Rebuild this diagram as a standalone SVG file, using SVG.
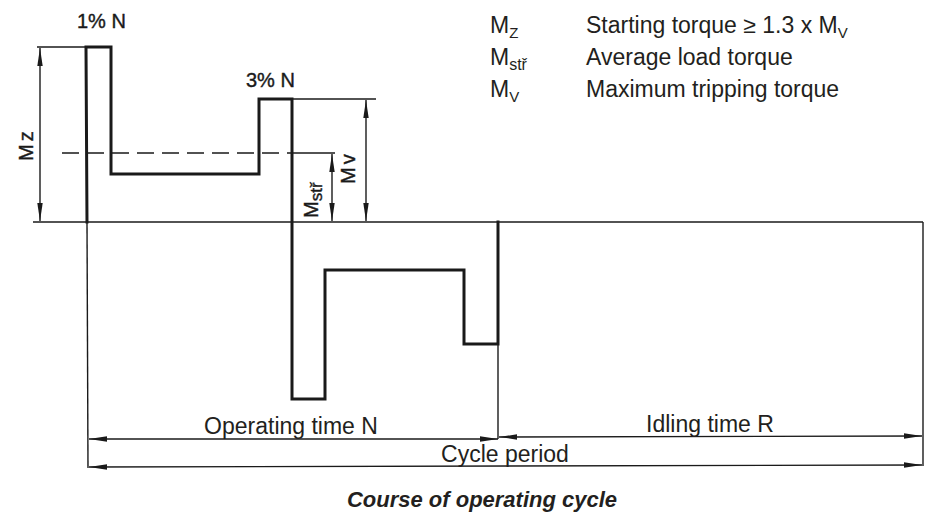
<svg xmlns="http://www.w3.org/2000/svg" width="928" height="527" viewBox="0 0 928 527">
  <style>
    .wave { fill: none; stroke: #1a1a1a; stroke-width: 3; stroke-linejoin: miter; stroke-linecap: square; }
    .thin { fill: none; stroke: #1a1a1a; stroke-width: 1.4; }
    .dash { fill: none; stroke: #1a1a1a; stroke-width: 1.4; stroke-dasharray: 17 8; }
    .dim { fill: none; stroke: #1a1a1a; stroke-width: 1.4; marker-start: url(#arr); marker-end: url(#arr); }
    .hand { font-family: "Liberation Sans", Arial, sans-serif; font-size: 20px; fill: #1a1a1a; stroke: #1a1a1a; stroke-width: 0.4; }
    .lbl { font-family: "Liberation Sans", Arial, Helvetica, sans-serif; font-size: 23px; fill: #231f20; }
    .cap { font-family: "Liberation Sans", Arial, Helvetica, sans-serif; font-size: 22px; font-weight: bold; font-style: italic; fill: #231f20; }
  </style>
  <defs>
    <marker id="arr" viewBox="0 0 18 7" refX="18" refY="3.5" markerWidth="18" markerHeight="7" markerUnits="userSpaceOnUse" orient="auto-start-reverse">
      <path d="M0,0.8 L18,3.5 L0,6.2 z" fill="#1a1a1a"/>
    </marker>
  </defs>
  <rect width="928" height="527" fill="#ffffff"/>

  <g id="baseline">
    <line class="thin" x1="33" y1="222" x2="923" y2="222"/>
  </g>

  <g id="extension-lines">
    <line class="thin" x1="37" y1="47" x2="86" y2="47" stroke-width="2"/>
    <line class="thin" x1="87" y1="222" x2="88" y2="468"/>
    <line class="thin" x1="292" y1="99" x2="376" y2="99"/>
    <line class="dash" x1="62" y1="153" x2="292" y2="153"/>
    <line class="thin" x1="292" y1="153" x2="335" y2="153"/>
    <line class="thin" x1="498" y1="344" x2="498" y2="439"/>
    <line class="thin" x1="923" y1="222" x2="923" y2="466"/>
  </g>

  <g id="waveform">
    <polyline class="wave" points="87,222 86,47 111,47 111,174 259,174 259,99 292,99 292,399 325,399 325,270 464,270 464,344 498,344 498,222"/>
  </g>

  <g id="connectors">
    <line class="dim" x1="40" y1="48" x2="40" y2="221"/>
    <line class="dim" x1="332" y1="154" x2="332" y2="221"/>
    <line class="dim" x1="366" y1="100" x2="366" y2="221"/>
    <line class="dim" x1="89" y1="439" x2="498" y2="439"/>
    <line class="dim" x1="499" y1="437" x2="922" y2="436"/>
    <line class="dim" x1="89" y1="467" x2="922" y2="465"/>
  </g>

  <g id="pulse-labels">
    <text class="hand" x="77" y="28">1% N</text>
    <text class="hand" x="246" y="87">3% N</text>
    <text class="hand" transform="translate(33,161) rotate(-90)">M<tspan dx="3">z</tspan></text>
    <text class="hand" transform="translate(355,184) rotate(-90)">M<tspan dx="3">v</tspan></text>
    <text class="hand" transform="translate(318,218) rotate(-90)">M<tspan dy="4" font-size="17">stř</tspan></text>
  </g>

  <g id="time-labels">
    <text class="lbl" x="291" y="434" text-anchor="middle">Operating time N</text>
    <text class="lbl" x="710" y="432" text-anchor="middle">Idling time R</text>
    <text class="lbl" x="505" y="462" text-anchor="middle">Cycle period</text>
  </g>

  <g id="legend">
    <text class="lbl" x="490" y="33">M<tspan dy="5" font-size="15">Z</tspan></text>
    <text class="lbl" x="586" y="33">Starting torque ≥ 1.3 x M<tspan dy="5" font-size="15">V</tspan></text>
    <text class="lbl" x="490" y="65">M<tspan dy="5" font-size="16">stř</tspan></text>
    <text class="lbl" x="586" y="65">Average load torque</text>
    <text class="lbl" x="490" y="97">M<tspan dy="5" font-size="15">V</tspan></text>
    <text class="lbl" x="586" y="97">Maximum tripping torque</text>
  </g>

  <g id="caption">
    <text class="cap" x="482" y="507" text-anchor="middle">Course of operating cycle</text>
  </g>
</svg>
